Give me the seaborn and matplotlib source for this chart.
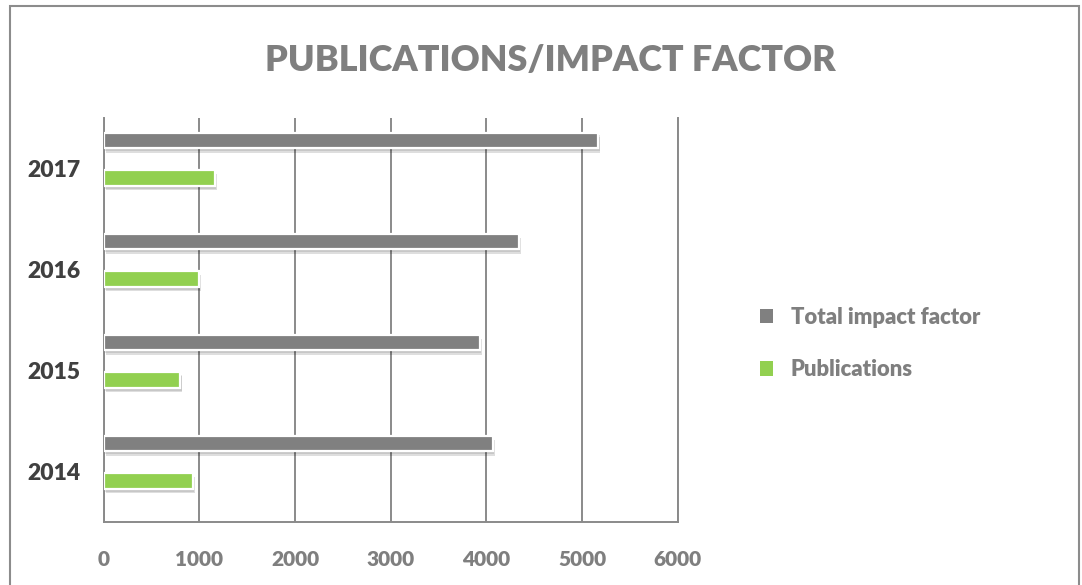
import numpy as np
import pandas as pd
import seaborn as sns
import matplotlib.pyplot as plt
from matplotlib.patches import Patch, Rectangle
from matplotlib import patheffects as pe

years = ["2014", "2015", "2016", "2017"]
impact_factor = [4068, 3928, 4336, 5168]
publications = [928, 800, 992, 1163]
series_names = ["Total impact factor", "Publications"]
x_ticks = [0, 1000, 2000, 3000, 4000, 5000, 6000]

GRAY = "#808080"
GREEN = "#92D050"
TEXT_GRAY = "#7F7F7F"
DARK = "#404040"

sns.set_theme(style="white")
plt.rcParams["font.family"] = ["Lato", "DejaVu Sans"]

fig = plt.figure(figsize=(10.82, 5.85), dpi=100)
ax = fig.add_axes([0.0959, 0.1077, 0.5305, 0.6906])

idx = np.arange(len(years))
bar_h = 0.158
df = pd.DataFrame({
    "pos": np.concatenate([idx + 0.277, idx - 0.094]),
    "value": impact_factor + publications,
    "series": [series_names[0]] * len(years) + [series_names[1]] * len(years),
})

shadow = [pe.SimplePatchShadow(offset=(1.5, -3), shadow_rgbFace="#000000", alpha=0.13),
          pe.SimplePatchShadow(offset=(1, -2), shadow_rgbFace="#000000", alpha=0.10),
          pe.Normal()]
for name, col in zip(series_names, [GRAY, GREEN]):
    sub = df[df["series"] == name]
    sns.barplot(data=sub, x="value", y="pos", orient="h", native_scale=True,
                width=bar_h, color=col, edgecolor="white", linewidth=1.6,
                saturation=1, ax=ax, zorder=3)

for p in ax.patches:
    p.set_path_effects(shadow)

ax.set_xlim(0, 6000)
ax.set_ylim(-0.5, len(years) - 0.5)
ax.set_xticks(x_ticks)
ax.set_xticklabels([str(t) for t in x_ticks], fontsize=15, fontweight="heavy", color=TEXT_GRAY)
ax.set_yticks(idx)
ax.set_yticklabels(years, fontsize=16.5, fontweight="heavy", color=DARK)
ax.tick_params(axis="x", pad=20, length=0)
ax.tick_params(axis="y", pad=17, length=0)
ax.set_xlabel("")
ax.set_ylabel("")

ax.grid(axis="x", color="#8A8A8A", linewidth=1.4, zorder=0)
ax.grid(axis="y", visible=False)
ax.set_axisbelow(True)
ax.spines["top"].set_visible(False)
for side in ["left", "bottom", "right"]:
    ax.spines[side].set_color("#8A8A8A")
    ax.spines[side].set_linewidth(1.4)

fig.text(0.5083, 0.897, "PUBLICATIONS/IMPACT FACTOR", ha="center", va="center",
         fontsize=25.8, fontweight="heavy", color=TEXT_GRAY)

handles = [Patch(facecolor=GRAY, edgecolor="none"), Patch(facecolor=GREEN, edgecolor="none")]
fig.legend(handles, series_names, loc="upper left", bbox_to_anchor=(0.684, 0.509),
           frameon=False, handlelength=0.62, handleheight=0.62, handletextpad=0.78,
           labelspacing=1.42, prop={"weight": "heavy", "size": 15.8}, labelcolor=TEXT_GRAY)

fig.patches.append(Rectangle((10 / 1082, -0.1), (1079 - 10) / 1082, 1.1 - 6 / 585,
                             transform=fig.transFigure, fill=False,
                             edgecolor="#8C8C8C", linewidth=1.5))

fig.savefig("out.png", dpi=100, facecolor="white")
